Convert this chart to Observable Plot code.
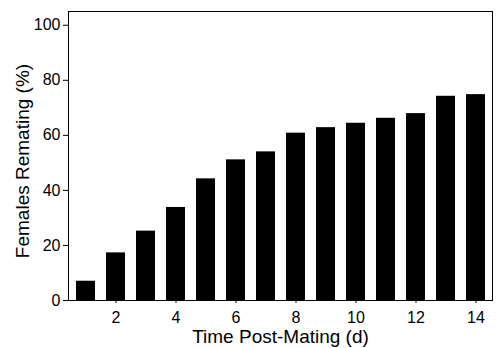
<!DOCTYPE html>
<html>
<head>
<meta charset="utf-8">
<script src="https://cdn.jsdelivr.net/npm/d3@7"></script>
<script src="https://cdn.jsdelivr.net/npm/@observablehq/plot@0.6"></script>
<style>
  body { margin: 0; background: #fff; }
</style>
</head>
<body>
<div id="chart"></div>
<script>
const days = [1, 2, 3, 4, 5, 6, 7, 8, 9, 10, 11, 12, 13, 14];
const remating = [7.0, 17.3, 25.2, 33.8, 44.2, 51.1, 54.0, 60.8, 62.8, 64.4, 66.2, 67.9, 74.2, 74.8];
const xTicks = [2, 4, 6, 8, 10, 12, 14];
const yTicks = [0, 20, 40, 60, 80, 100];
const xLabel = "Time Post-Mating (d)";
const yLabel = "Females Remating (%)";

const data = days.map((d, i) => ({day: d, value: remating[i]}));

const chart = Plot.plot({
  width: 496,
  height: 348,
  marginLeft: 68,
  marginRight: 4,
  marginTop: 11,
  marginBottom: 48,
  style: {fontFamily: "'Liberation Sans', Arial, sans-serif", color: "#000", background: "#fff"},
  x: {type: "band", domain: days, paddingInner: 0.37, paddingOuter: 0.185},
  y: {domain: [0, 105]},
  marks: [
    Plot.barY(data, {x: "day", y: "value", fill: "#000"}),
    Plot.frame({stroke: "#000", strokeWidth: 1}),
    Plot.axisX({ticks: xTicks, tickSize: 3, tickPadding: 8, fontSize: 16, label: null}),
    Plot.axisY({ticks: yTicks, tickSize: 5, tickPadding: 3, fontSize: 16, label: null}),
    Plot.text([xLabel], {frameAnchor: "bottom", textAnchor: "middle", lineAnchor: "middle", dy: 36, fontSize: 19, fill: "#000"}),
    Plot.text([yLabel], {frameAnchor: "left", textAnchor: "middle", lineAnchor: "middle", rotate: -90, dx: -46, dy: 5, fontSize: 19, fill: "#000"})
  ]
});
document.getElementById("chart").appendChild(chart);
</script>
</body>
</html>
